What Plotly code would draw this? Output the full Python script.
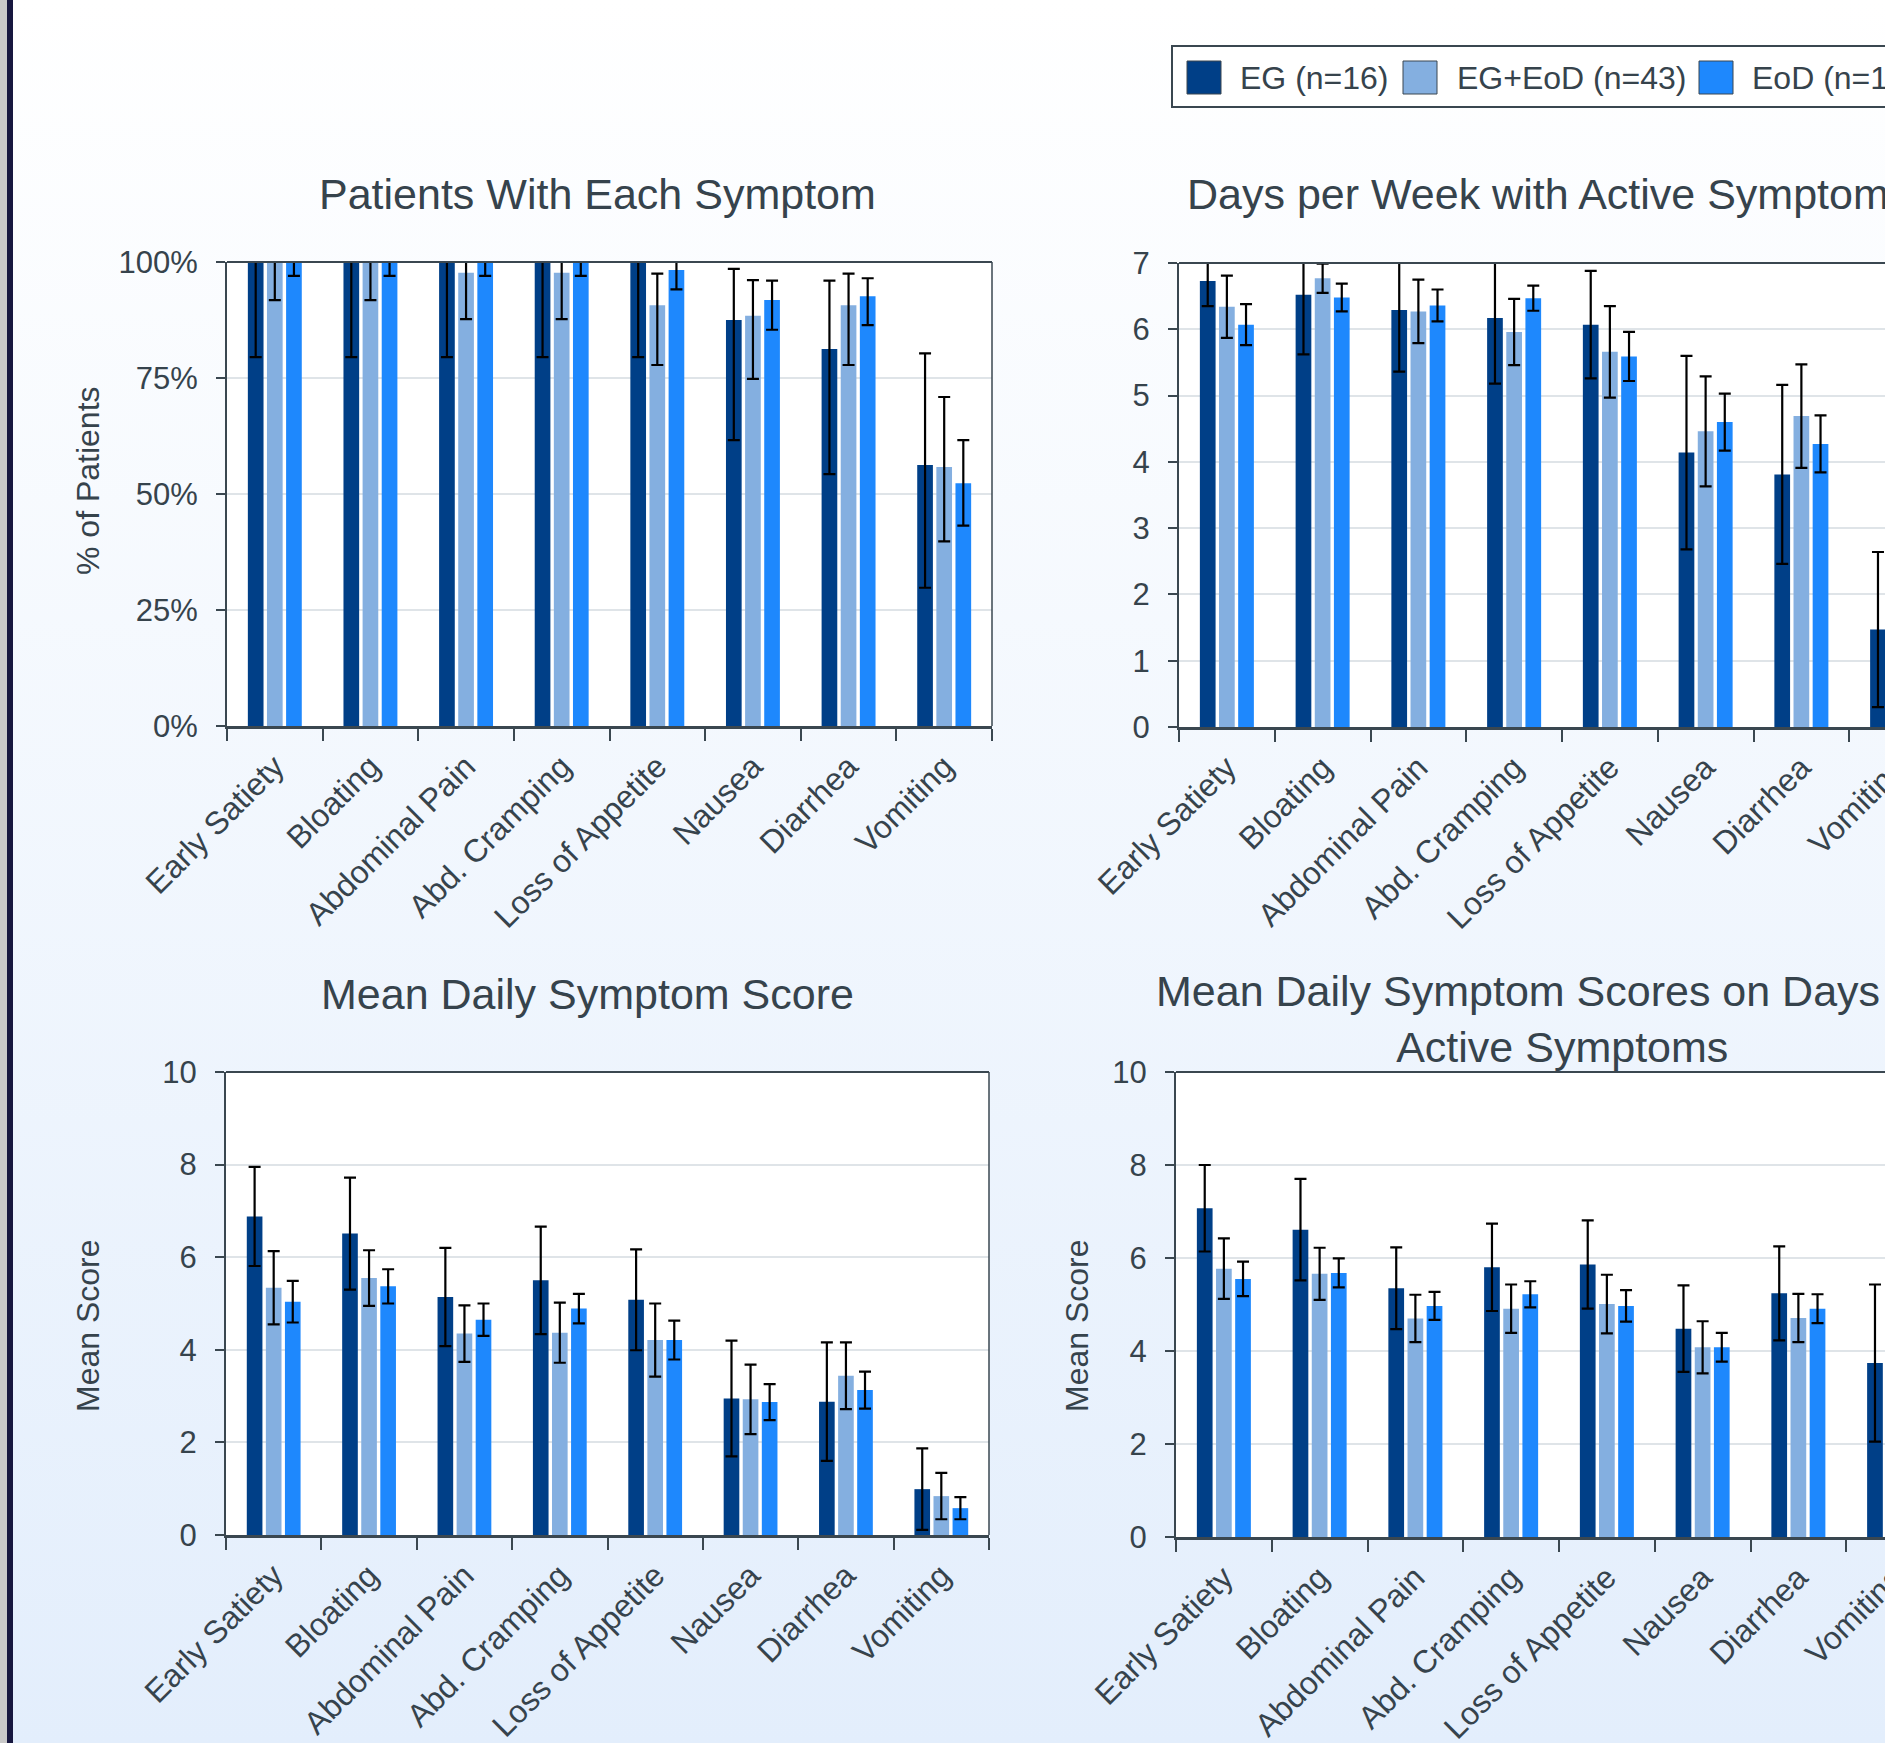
import base64
import plotly.graph_objects as go

# ---------------------------------------------------------------- data
symptoms = ["Early Satiety", "Bloating", "Abdominal Pain", "Abd. Cramping",
            "Loss of Appetite", "Nausea", "Diarrhea", "Vomiting"]
groups = ["EG (n=16)", "EG+EoD (n=43)", "EoD (n=18)"]

# Patients with each symptom (%), with lower / upper confidence bounds
pct_eg = [100, 100, 100, 100, 100, 87.5, 81.25, 56.25]
pct_eg_lo = [79.5, 79.5, 79.5, 79.5, 79.5, 61.6, 54.3, 29.8]
pct_eg_hi = [100, 100, 100, 100, 100, 98.5, 96.0, 80.3]
pct_mix = [100, 100, 97.7, 97.7, 90.7, 88.4, 90.7, 55.8]
pct_mix_lo = [91.8, 91.8, 87.7, 87.7, 77.8, 74.8, 77.8, 39.8]
pct_mix_hi = [100, 100, 100, 100, 97.5, 96.1, 97.5, 70.9]
pct_eod = [100, 100, 100, 100, 98.3, 91.8, 92.6, 52.3]
pct_eod_lo = [97.0, 97.0, 97.0, 97.0, 94.1, 85.4, 86.4, 43.2]
pct_eod_hi = [100, 100, 100, 100, 100, 96.0, 96.5, 61.6]

# Days per week with active symptoms (mean, +/- error)
days_eg = [6.73, 6.52, 6.29, 6.17, 6.07, 4.14, 3.81, 1.47]
days_eg_err = [0.38, 0.90, 0.93, 0.99, 0.81, 1.46, 1.35, 1.17]
days_mix = [6.34, 6.77, 6.27, 5.96, 5.66, 4.46, 4.69, 1.25]
days_mix_err = [0.47, 0.22, 0.48, 0.50, 0.69, 0.83, 0.78, 0.45]
days_eod = [6.07, 6.48, 6.36, 6.47, 5.59, 4.60, 4.27, 1.05]
days_eod_err = [0.31, 0.21, 0.24, 0.19, 0.37, 0.43, 0.43, 0.30]

# Mean daily symptom score
score_eg = [6.88, 6.51, 5.14, 5.50, 5.08, 2.95, 2.88, 0.99]
score_eg_err = [1.07, 1.21, 1.06, 1.16, 1.09, 1.25, 1.28, 0.88]
score_mix = [5.34, 5.55, 4.35, 4.37, 4.21, 2.93, 3.44, 0.84]
score_mix_err = [0.79, 0.60, 0.61, 0.65, 0.79, 0.75, 0.72, 0.50]
score_eod = [5.04, 5.37, 4.65, 4.89, 4.21, 2.87, 3.13, 0.58]
score_eod_err = [0.45, 0.37, 0.35, 0.32, 0.42, 0.39, 0.40, 0.24]

# Mean daily symptom score on days with active symptoms
active_eg = [7.07, 6.61, 5.35, 5.80, 5.86, 4.48, 5.24, 3.74]
active_eg_err = [0.93, 1.09, 0.88, 0.94, 0.95, 0.93, 1.01, 1.69]
active_mix = [5.77, 5.66, 4.70, 4.91, 5.01, 4.08, 4.71, 3.30]
active_mix_err = [0.65, 0.56, 0.51, 0.52, 0.63, 0.56, 0.52, 0.80]
active_eod = [5.55, 5.68, 4.97, 5.22, 4.97, 4.08, 4.91, 3.00]
active_eod_err = [0.37, 0.31, 0.30, 0.28, 0.34, 0.31, 0.31, 0.50]

# ---------------------------------------------------------------- style
W, H = 2010, 1743
FONT = "Liberation Sans, Arial, Helvetica, sans-serif"
TXT = "#36434c"
AX = "#3a4750"
GRID = "#dfe4e8"
COLORS = ["#003f87", "#84afe0", "#1e88fd"]


def px(x):
    return x / W


def py(y):
    return 1 - y / H


# plot areas in page pixels: (left, right, top, bottom)
boxes = {
    "": (227, 992, 262, 726),
    "2": (1179, 1945, 263, 727),
    "3": (226, 989, 1072, 1535),
    "4": (1176, 1942, 1072, 1537),
}

panels = [
    ("", [(pct_eg, pct_eg_lo, pct_eg_hi), (pct_mix, pct_mix_lo, pct_mix_hi),
          (pct_eod, pct_eod_lo, pct_eod_hi)]),
    ("2", [(days_eg, days_eg_err), (days_mix, days_mix_err),
           (days_eod, days_eod_err)]),
    ("3", [(score_eg, score_eg_err), (score_mix, score_mix_err),
           (score_eod, score_eod_err)]),
    ("4", [(active_eg, active_eg_err), (active_mix, active_mix_err),
           (active_eod, active_eod_err)]),
]

fig = go.Figure()

for suffix, series in panels:
    for gi, s in enumerate(series):
        vals = s[0]
        if len(s) == 3:
            lo, hi = s[1], s[2]
            err = dict(type="data", symmetric=False,
                       array=[h - v for v, h in zip(vals, hi)],
                       arrayminus=[v - l for v, l in zip(vals, lo)])
        else:
            err = dict(type="data", symmetric=True, array=s[1])
        err.update(color="#000000", thickness=2.2, width=6)
        fig.add_trace(go.Bar(
            x=symptoms, y=vals, name=groups[gi],
            marker=dict(color=COLORS[gi], line=dict(width=0)),
            error_y=err, showlegend=False,
            xaxis="x" + suffix, yaxis="y" + suffix,
        ))

xtickfont = dict(family=FONT, size=32, color=TXT)
ytickfont = dict(family=FONT, size=31, color=TXT)
yranges = {"": ([0, 100], 25, "%"), "2": ([0, 7], 1, ""),
           "3": ([0, 10], 2, ""), "4": ([0, 10], 2, "")}

layout = dict(
    width=W, height=H,
    margin=dict(l=0, r=0, t=0, b=0, pad=0, autoexpand=False),
    paper_bgcolor="#ffffff",
    plot_bgcolor="rgba(0,0,0,0)",
    barmode="group", bargap=0.4, bargroupgap=0.18,
    font=dict(family=FONT, color=TXT),
    showlegend=False,
)

shapes = []
for suffix, (l, r, t, b) in boxes.items():
    rng, dt, suf = yranges[suffix]
    layout["xaxis" + suffix] = dict(
        domain=[px(l), px(r)], anchor="y" + suffix, type="category",
        automargin=False,
        showline=True, linecolor=AX, linewidth=3,
        ticks="outside", tickson="boundaries", ticklen=12, tickwidth=2,
        tickcolor=AX, tickangle=-45, tickfont=xtickfont, showgrid=False,
        ticklabelstandoff=6, fixedrange=True,
    )
    layout["yaxis" + suffix] = dict(
        domain=[py(b), py(t)], anchor="x" + suffix, range=rng,
        automargin=False,
        tick0=0, dtick=dt, ticksuffix=suf,
        showline=True, linecolor=AX, linewidth=2,
        ticks="outside", ticklen=9, tickwidth=2, tickcolor=AX,
        showgrid=True, gridcolor=GRID, gridwidth=2, zeroline=False,
        tickfont=ytickfont, ticklabelstandoff=12, fixedrange=True,
    )
    xr, yr = "x%s domain" % suffix, "y%s domain" % suffix
    # white plotting area
    shapes.append(dict(type="rect", xref=xr, yref=yr, x0=0, x1=1, y0=0, y1=1,
                       fillcolor="#ffffff", line=dict(width=0), layer="below"))
    # top and right frame lines
    shapes.append(dict(type="line", xref=xr, yref=yr, x0=0, x1=1, y0=1, y1=1,
                       line=dict(color=AX, width=2), layer="above"))
    shapes.append(dict(type="line", xref=xr, yref=yr, x0=1, x1=1, y0=0, y1=1,
                       line=dict(color=AX, width=1.5), layer="above"))

# dark rule down the left edge of the page
shapes.append(dict(type="rect", xref="paper", yref="paper", x0=0, x1=px(7),
                   y0=0, y1=1, fillcolor="#c9c9c9", line=dict(width=0)))
shapes.append(dict(type="rect", xref="paper", yref="paper", x0=px(7),
                   x1=px(13), y0=0, y1=1, fillcolor="#17173f",
                   line=dict(width=0)))

# legend box with swatches
shapes.append(dict(type="rect", xref="paper", yref="paper", x0=px(1172),
                   x1=px(1938), y0=py(107), y1=py(46), fillcolor="#ffffff",
                   line=dict(color=AX, width=2)))
annotations = []
for gi, (sx, tx) in enumerate([(1187, 1238), (1403, 1455), (1699, 1750)]):
    shapes.append(dict(type="rect", xref="paper", yref="paper", x0=px(sx),
                       x1=px(sx + 34), y0=py(94), y1=py(61),
                       fillcolor=COLORS[gi], line=dict(color=AX, width=1)))
    annotations.append(dict(text=groups[gi], xref="paper", yref="paper",
                            x=px(tx), y=py(78), xanchor="left",
                            yanchor="middle", showarrow=False,
                            font=dict(family=FONT, size=32, color=TXT)))

titles = [
    ("Patients With Each Symptom", 597, 194),
    ("Days per Week with Active Symptoms", 1548, 194),
    ("Mean Daily Symptom Score", 587, 994),
    ("Mean Daily Symptom Scores on Days with<br>Active Symptoms", 1562, 1019),
]
for text, x, y in titles:
    annotations.append(dict(text=text, xref="paper", yref="paper", x=px(x),
                            y=py(y), xanchor="center", yanchor="middle",
                            showarrow=False,
                            font=dict(family=FONT, size=43, color=TXT)))

for text, x, y in [("% of Patients", 88, 481), ("Mean Score", 88, 1326),
                   ("Mean Score", 1077, 1326)]:
    annotations.append(dict(text=text, xref="paper", yref="paper", x=px(x),
                            y=py(y), xanchor="center", yanchor="middle",
                            textangle=-90, showarrow=False,
                            font=dict(family=FONT, size=32, color=TXT)))

# soft white-to-blue page background
svg = ('<svg xmlns="http://www.w3.org/2000/svg" width="100" height="100" '
       'viewBox="0 0 100 100" preserveAspectRatio="none"><defs>'
       '<linearGradient id="g" x1="0" y1="0" x2="0" y2="1">'
       '<stop offset="0" stop-color="#ffffff"/>'
       '<stop offset="1" stop-color="#e3eefc"/></linearGradient></defs>'
       '<rect width="100" height="100" fill="url(#g)"/></svg>')
bg_src = "data:image/svg+xml;base64," + base64.b64encode(svg.encode()).decode()

layout["shapes"] = shapes
layout["annotations"] = annotations
layout["images"] = [dict(source=bg_src, xref="paper", yref="paper", x=0, y=1,
                         sizex=1, sizey=1, sizing="stretch", layer="below",
                         xanchor="left", yanchor="top")]

fig.update_layout(**layout)

fig.write_html(
    "out.html",
    config={"displayModeBar": False},
    post_script=("document.body.style.margin='0';"
                 "document.body.style.overflow='hidden';"
                 "document.documentElement.style.overflow='hidden';"),
)
